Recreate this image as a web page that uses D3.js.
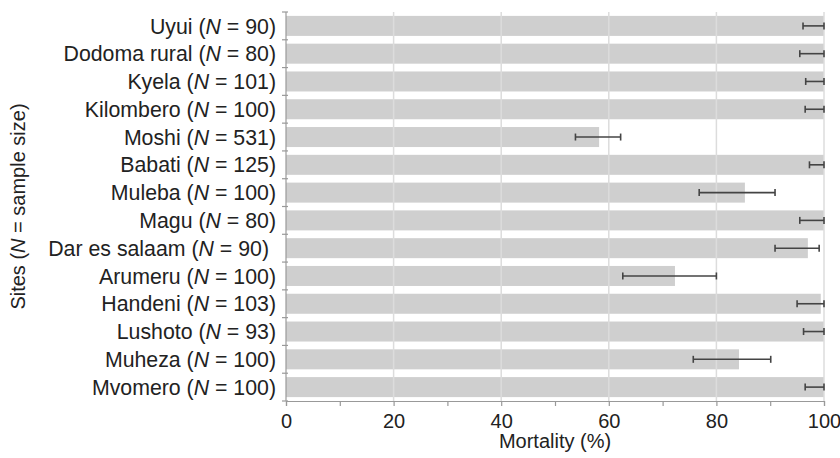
<!DOCTYPE html>
<html><head><meta charset="utf-8">
<script src="https://cdn.jsdelivr.net/npm/d3@7"></script>
<style>body{margin:0;background:#fff}svg{display:block}text{font-family:"Liberation Sans",Arial,sans-serif;fill:#222}</style>
</head><body><div id="chart"></div>
<script>
const sites = ["Uyui","Dodoma rural","Kyela","Kilombero","Moshi","Babati","Muleba","Magu","Dar es salaam","Arumeru","Handeni","Lushoto","Muheza","Mvomero"];
const sampleSizes = [90,80,101,100,531,125,100,80,90,100,103,93,100,100];
const mortality = [100,100,100,100,58.2,100,85.3,100,97.0,72.3,99.4,100,84.2,100];
const ciLow = [96.1,95.5,96.6,96.5,53.8,97.3,76.8,95.5,90.9,62.6,95.0,96.2,75.7,96.5];
const ciHigh = [100,100,100,100,62.2,100,90.9,100,99.1,80.0,100,100,90.1,100];
const xTicks = [0,20,40,60,80,100];

const W=840,H=458, L=286, R=824, T=12, B=401;
const svg=d3.select("#chart").append("svg").attr("width",W).attr("height",H);
const x=d3.scaleLinear().domain([0,100]).range([L,R]);
const y=d3.scaleBand().domain(sites).range([T,B]).paddingInner(0.28).paddingOuter(0.14);

// bars
svg.append("g").selectAll("rect").data(sites).join("rect")
  .attr("x",x(0)).attr("y",d=>y(d)).attr("height",y.bandwidth())
  .attr("width",(d,i)=>x(mortality[i])-x(0)).attr("fill","#cfcfcf");

// gridlines (drawn on top, light)
svg.append("g").selectAll("line").data([20,40,60,80,100]).join("line")
  .attr("x1",d=>x(d)).attr("x2",d=>x(d)).attr("y1",T).attr("y2",B)
  .attr("stroke","#dcdcdc").attr("stroke-width",1.5);

// error bars
const eb=svg.append("g").attr("stroke","#444").attr("stroke-width",1.6);
sites.forEach((s,i)=>{
  const cy=y(s)+y.bandwidth()/2;
  eb.append("line").attr("x1",x(ciLow[i])).attr("x2",x(ciHigh[i])).attr("y1",cy).attr("y2",cy);
  [ciLow[i],ciHigh[i]].forEach(v=>eb.append("line").attr("x1",x(v)).attr("x2",x(v)).attr("y1",cy-3.5).attr("y2",cy+3.5));
});

// x axis
const xa=svg.append("g").attr("transform",`translate(0,${B})`)
  .call(d3.axisBottom(x).tickValues(d3.range(0,101,10)).tickSize(5).tickFormat(d=>xTicks.includes(d)?d:""));
xa.select(".domain").attr("stroke","#999").attr("stroke-width",1.2);
xa.selectAll(".tick line").attr("stroke","#999").attr("stroke-width",1.2);
xa.selectAll(".tick text").attr("font-size",20).attr("dy","0.95em").attr("fill","#222").style("font-family","Liberation Sans, Arial, sans-serif");

// y axis
const ya=svg.append("g").attr("transform",`translate(${L},0)`);
ya.append("line").attr("x1",0).attr("x2",0).attr("y1",T).attr("y2",B).attr("stroke","#999").attr("stroke-width",1.2);
ya.selectAll("line.tk").data(d3.range(sites.length+1)).join("line").attr("class","tk")
  .attr("x1",-4).attr("x2",2).attr("y1",i=>T+i*(B-T)/sites.length).attr("y2",i=>T+i*(B-T)/sites.length)
  .attr("stroke","#999").attr("stroke-width",1.2);
const lab=svg.append("g").selectAll("text").data(sites).join("text")
  .attr("x",(d,i)=>L-10 - (d==="Dar es salaam"?7:0)).attr("y",d=>y(d)+y.bandwidth()/2).attr("dy","0.36em")
  .attr("text-anchor","end").attr("font-size",21.3);
lab.each(function(d,i){
  const t=d3.select(this);
  t.append("tspan").text(d+" (");
  t.append("tspan").attr("font-style","italic").text("N");
  t.append("tspan").text(" = "+sampleSizes[i]+")");
});

// axis titles
svg.append("text").attr("x",(L+R)/2).attr("y",448).attr("text-anchor","middle").attr("font-size",20).text("Mortality (%)");
const yt=svg.append("text").attr("transform",`translate(25,${(T+B)/2}) rotate(-90)`).attr("text-anchor","middle").attr("font-size",20);
yt.append("tspan").text("Sites (");
yt.append("tspan").attr("font-style","italic").text("N");
yt.append("tspan").text(" = sample size)");
</script></body></html>
